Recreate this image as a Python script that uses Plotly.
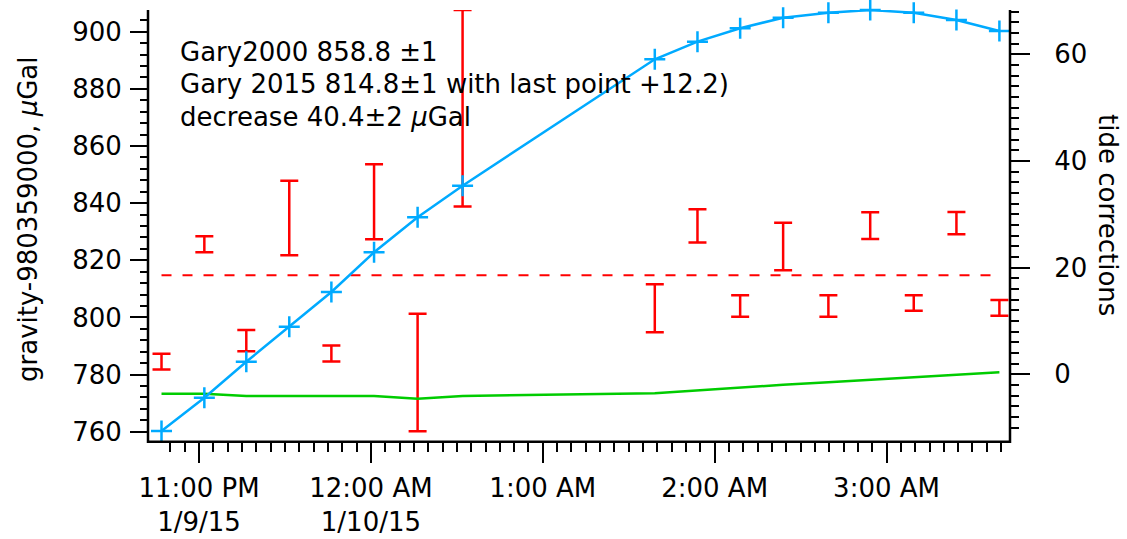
import pandas as pd
import plotly.graph_objects as go

# ---------------- data ----------------
times = [
    "2015-01-09 22:46:54", "2015-01-09 23:01:51", "2015-01-09 23:16:30",
    "2015-01-09 23:31:30", "2015-01-09 23:46:12", "2015-01-10 00:01:06",
    "2015-01-10 00:16:18", "2015-01-10 00:32:00", "2015-01-10 01:39:06",
    "2015-01-10 01:54:00", "2015-01-10 02:08:54", "2015-01-10 02:23:54",
    "2015-01-10 02:39:42", "2015-01-10 02:54:18", "2015-01-10 03:09:30",
    "2015-01-10 03:24:24", "2015-01-10 03:39:24",
]
gravity = [784.55, 825.6, 791.9, 834.8, 787.4, 840.5, 780.75, 873.2, 803.2,
           832.05, 804.0, 824.85, 804.0, 832.15, 805.05, 833.0, 803.35]
gravity_err = [2.75, 2.8, 3.7, 13.0, 2.8, 13.1, 20.55, 34.4, 8.4,
               5.8, 3.8, 8.3, 3.8, 4.7, 2.75, 3.9, 2.75]
tide = [-10.63, -4.39, 2.36, 8.93, 15.43, 22.88, 29.44, 35.37, 59.07,
        62.37, 64.88, 66.87, 67.80, 68.31, 67.80, 66.43, 64.37]
other_corr = [-3.63, -3.63, -4.07, -4.07, -4.07, -4.07, -4.57, -4.07, -3.56,
              -3.0, -2.44, -1.97, -1.5, -1.03, -0.56, -0.09, 0.38]
mean_2015 = 814.8

hour_ticks = ["2015-01-09 23:00:00", "2015-01-10 00:00:00", "2015-01-10 01:00:00",
              "2015-01-10 02:00:00", "2015-01-10 03:00:00"]
hour_labels = ["11:00 PM<br>1/9/15", "12:00 AM<br>1/10/15", "1:00 AM", "2:00 AM", "3:00 AM"]

notes = ["Gary2000 858.8 ±1",
         "Gary 2015 814.8±1 with last point +12.2)",
         "decrease 40.4±2 <i>μ</i>Gal"]

x_range = ["2015-01-09 22:42:11", "2015-01-10 03:43:06"]
y_left_range = [759.37, 907.6]
y_right_range = [-11.1, 68.31]

# tick positions of the time axis (5 min minor, 15 min medium)
fmt = "%Y-%m-%d %H:%M:%S"
tick5 = pd.date_range("2015-01-09 22:50", "2015-01-10 03:40", freq="5min").strftime(fmt).tolist()
tick15 = pd.date_range("2015-01-09 23:00", "2015-01-10 03:30", freq="15min").strftime(fmt).tolist()

# ---------------- style ----------------
W, H = 1127, 539
RED = "#FF0000"
BLUE = "#00AAFF"
GREEN = "#00CC00"
FONT = "DejaVu Sans"


def px(x):
    return x / W


def py(y):
    return 1 - y / H


x_dom = [px(148), px(1010)]
y_dom = [py(433.5), py(10)]
axis_y = py(441.7)

fig = go.Figure()

fig.add_trace(go.Scatter(
    x=[times[0], times[-1]], y=[mean_2015, mean_2015], mode="lines",
    line=dict(color=RED, width=2, dash="10px,11px"), cliponaxis=False,
    xaxis="x", yaxis="y", hoverinfo="skip"))

fig.add_trace(go.Scatter(
    x=times, y=gravity, mode="markers",
    marker=dict(size=2, opacity=0, color=RED),
    error_y=dict(type="data", array=gravity_err, visible=True, color=RED,
                 thickness=2.5, width=9),
    cliponaxis=False, xaxis="x", yaxis="y"))

fig.add_trace(go.Scatter(
    x=times, y=other_corr, mode="lines",
    line=dict(color=GREEN, width=2.5), cliponaxis=False,
    xaxis="x", yaxis="y2"))

fig.add_trace(go.Scatter(
    x=times, y=tide, mode="lines+markers",
    line=dict(color=BLUE, width=2.5),
    marker=dict(symbol="cross-thin", size=15, color=BLUE,
                line=dict(width=2.5, color=BLUE)),
    cliponaxis=False, xaxis="x", yaxis="y2"))

tickcommon = dict(showgrid=False, zeroline=False, showline=False,
                  ticks="outside", tickwidth=2, tickcolor="black",
                  automargin=False)

fig.update_layout(
    width=W, height=H,
    margin=dict(l=0, r=0, t=0, b=0, pad=0, autoexpand=False),
    paper_bgcolor="white", plot_bgcolor="white", showlegend=False,
    font=dict(family=FONT, size=26, color="black"),
    xaxis=dict(type="date", domain=x_dom, range=x_range,
               anchor="free", position=axis_y,
               tickmode="array", tickvals=hour_ticks, ticktext=hour_labels,
               ticklen=20, ticklabelstandoff=3,
               minor=dict(tickmode="array", tickvals=tick5,
                          ticks="outside", ticklen=9, tickwidth=2,
                          tickcolor="black", showgrid=False),
               **tickcommon),
    xaxis2=dict(type="date", overlaying="x", range=x_range,
                anchor="free", position=axis_y,
                tickmode="array", tickvals=tick15, ticklen=14,
                showticklabels=False, **tickcommon),
    yaxis=dict(domain=y_dom, range=y_left_range, anchor="free",
               position=px(148), tickmode="linear", tick0=0, dtick=20,
               ticklen=18, ticklabelstandoff=3,
               minor=dict(dtick=4, tick0=0, ticks="outside", ticklen=8,
                          tickwidth=2, tickcolor="black", showgrid=False),
               **tickcommon),
    yaxis2=dict(overlaying="y", side="right", range=y_right_range,
                anchor="free", position=px(1010), tickmode="linear",
                tick0=0, dtick=20, ticklen=19, ticklabelstandoff=19,
                minor=dict(dtick=2, tick0=0, ticks="outside", ticklen=8,
                           tickwidth=2, tickcolor="black", showgrid=False),
                **tickcommon),
)

# frame lines (axis lines offset from the data, Igor style)
fig.add_shape(type="path", xref="paper", yref="paper",
              path=f"M {px(148)} {py(10)} L {px(148)} {py(441.7)} "
                   f"L {px(1010)} {py(441.7)} L {px(1010)} {py(10)}",
              line=dict(color="black", width=2.5))

# axis titles
fig.add_annotation(xref="paper", yref="paper", x=px(28), y=py(219),
                   text="gravity-980359000, <i>μ</i>Gal", textangle=-90,
                   showarrow=False, xanchor="center", yanchor="middle")
fig.add_annotation(xref="paper", yref="paper", x=px(1108), y=py(215),
                   text="tide corrections", textangle=90,
                   showarrow=False, xanchor="center", yanchor="middle")

# notes
for t, yc in zip(notes, [51.7, 84.4, 117.0]):
    fig.add_annotation(xref="paper", yref="paper", x=px(178.3), y=py(yc),
                       text=t, showarrow=False, xanchor="left",
                       yanchor="middle", align="left")

fig.write_html(
    "out.html",
    config={"displayModeBar": False},
    post_script="document.body.style.margin='0px';document.body.style.overflow='hidden';",
)
